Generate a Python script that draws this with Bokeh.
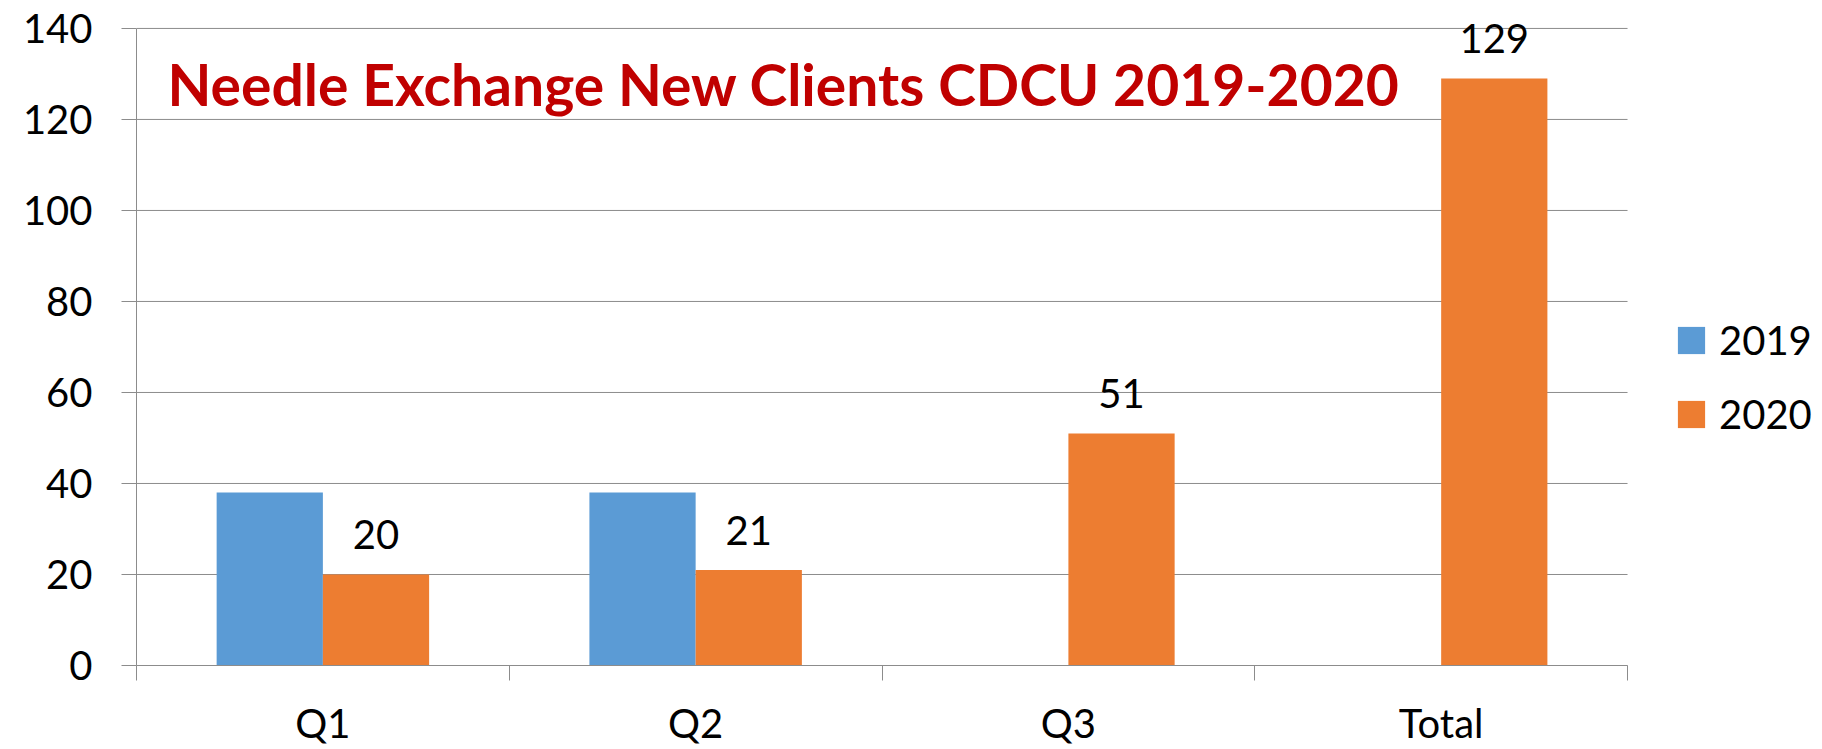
import math
from bokeh.plotting import figure
from bokeh.models import (ColumnDataSource, Range1d, FixedTicker, Legend, LegendItem,
                          Label, LabelSet)
from bokeh.core.properties import value
from bokeh.embed import file_html
from bokeh.resources import INLINE

# ---- data ----
categories = ["Q1", "Q2", "Q3", "Total"]
values_2019 = [38, 38, None, None]
values_2020 = [20, 21, 51, 129]
series_names = ["2019", "2020"]
title_text = "Needle Exchange New Clients CDCU 2019-2020"
y_ticks = [0, 20, 40, 60, 80, 100, 120, 140]

BLUE = "#5B9BD5"
ORANGE = "#ED7D31"
GRID = "#8c8c8c"
FONT = "Lato"

BAR_W = 0.285
OFF = BAR_W / 2
N = len(categories)

centers = [i + 0.5 for i in range(N)]
v19 = [float("nan") if v is None else v for v in values_2019]
src19 = ColumnDataSource(dict(x=[c - OFF for c in centers], top=v19))
src20 = ColumnDataSource(dict(x=[c + OFF for c in centers], top=values_2020,
                              lbl=[str(v) for v in values_2020]))
grid_src = ColumnDataSource(dict(x0=[0] * len(y_ticks), x1=[N] * len(y_ticks), y=y_ticks))

# frame extends to the right edge so the legend (inside the frame) is not clipped
p = figure(width=1822, height=749, output_backend="svg", toolbar_location=None,
           x_range=Range1d(0, 4.523), y_range=Range1d(0, 146.14),
           min_border_left=136, min_border_right=0, min_border_top=0,
           min_border_bottom=83)
p.outline_line_color = None
p.background_fill_color = "white"
p.border_fill_color = "white"

# horizontal gridlines, limited to the category area
p.segment(x0="x0", x1="x1", y0="y", y1="y", source=grid_src, line_color=GRID, line_width=1)

r19 = p.vbar(x="x", top="top", width=BAR_W, source=src19, fill_color=BLUE, line_color=None)
r20 = p.vbar(x="x", top="top", width=BAR_W, source=src20, fill_color=ORANGE, line_color=None)

labels = LabelSet(x="x", y="top", text="lbl", source=src20, y_offset=25,
                  text_align="center", text_baseline="alphabetic",
                  text_font=value(FONT), text_font_size="40px", text_color="black")
p.add_layout(labels)

# y axis
p.yaxis.ticker = FixedTicker(ticks=y_ticks)
p.yaxis.bounds = (0, 140)
p.yaxis.axis_line_color = GRID
p.yaxis.major_tick_line_color = GRID
p.yaxis.major_tick_out = 15
p.yaxis.major_tick_in = 0
p.yaxis.minor_tick_line_color = None
p.yaxis.major_label_standoff = 29
p.yaxis.major_label_text_font = FONT
p.yaxis.major_label_text_font_size = "40px"
p.yaxis.major_label_text_color = "black"

# x axis
p.xaxis.ticker = FixedTicker(ticks=centers, minor_ticks=list(range(N + 1)))
p.xaxis.bounds = (0, N)
p.xaxis.major_label_overrides = {c: cat for c, cat in zip(centers, categories)}
p.xaxis.axis_line_color = GRID
p.xaxis.major_tick_line_color = None
p.xaxis.major_tick_out = 0
p.xaxis.major_tick_in = 0
p.xaxis.minor_tick_line_color = GRID
p.xaxis.minor_tick_out = 15
p.xaxis.minor_tick_in = 0
p.xaxis.major_label_standoff = 18
p.xaxis.major_label_text_font = FONT
p.xaxis.major_label_text_font_size = "40px"
p.xaxis.major_label_text_color = "black"

p.xgrid.grid_line_color = None
p.ygrid.grid_line_color = None

title = Label(x=31, y=582, x_units="screen", y_units="screen", text=title_text,
              text_font=FONT, text_font_style="bold", text_font_size="57px",
              text_color="#C00000", text_baseline="alphabetic", text_align="left")
p.add_layout(title)

legend = Legend(items=[LegendItem(label=series_names[0], renderers=[r19]),
                       LegendItem(label=series_names[1], renderers=[r20])],
                location=(1538, 227), orientation="vertical",
                glyph_width=34, glyph_height=34, label_height=27,
                label_standoff=11, spacing=26, padding=0, margin=0,
                label_text_font=FONT, label_text_font_size="40px",
                label_text_color="black",
                border_line_color=None, background_fill_alpha=0)
p.add_layout(legend, "center")

open("out.html", "w").write(file_html(p, INLINE))
